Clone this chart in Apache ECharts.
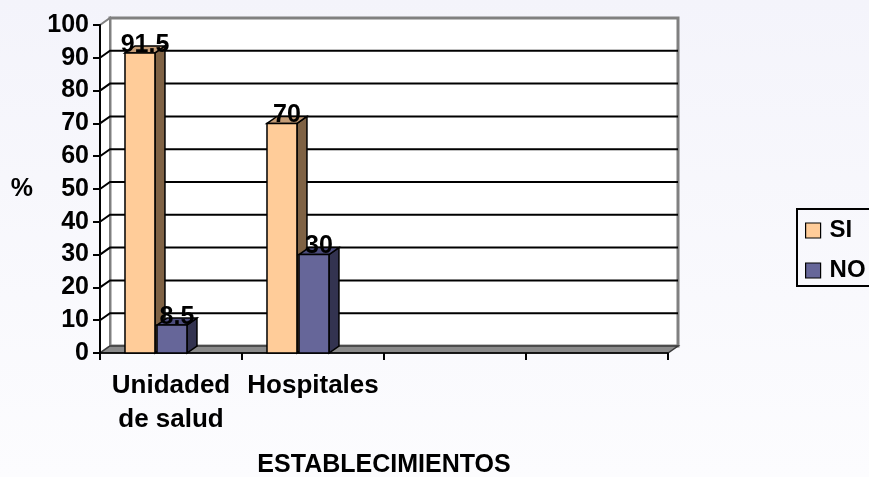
<!DOCTYPE html>
<html>
<head>
<meta charset="utf-8">
<script src="https://cdn.jsdelivr.net/npm/echarts@6/dist/echarts.min.js"></script>
<style>
html,body{margin:0;padding:0;background:#f8f8fc;}
#chart{width:869px;height:477px;}
</style>
</head>
<body>
<div id="chart"></div>
<script>
// ---- data ----
const categories = ['Unidaded\nde salud', 'Hospitales', '', ''];
const seriesNames = ['SI', 'NO'];
const siValues = [91.5, 70];
const noValues = [8.5, 30];
const yTicks = [0, 10, 20, 30, 40, 50, 60, 70, 80, 90, 100];
const xAxisTitle = 'ESTABLECIMIENTOS';
const yAxisTitle = '%';

// ---- styling ----
const FONT = 'Liberation Sans, Arial, sans-serif';
const DEPTH = [10, -7];
const BAR_W = 0.211;
const OFFSETS = [-0.324, -0.0986];
const COLORS = [
  {front: '#FFCC99', side: '#7f6244', top: '#c49c76'},
  {front: '#666699', side: '#333350', top: '#4d4d7d'}
];
const yMin = yTicks[0], yMax = yTicks[yTicks.length - 1];

function wallsRender(params, api) {
  const band = api.size([1, 0])[0];
  const p0 = api.coord([0, yMin]);
  const x0 = p0[0] - band / 2, y0 = p0[1];
  const x1 = x0 + band * categories.length;
  const yTop = api.coord([0, yMax])[1];
  const dx = DEPTH[0], dy = DEPTH[1];
  const children = [];
  children.push({type: 'rect', shape: {x: x0 + dx, y: yTop + dy, width: x1 - x0, height: y0 - yTop},
    style: {fill: '#ffffff', stroke: '#808080', lineWidth: 3}});
  children.push({type: 'polygon', shape: {points: [[x0, yTop], [x0 + dx, yTop + dy], [x0 + dx, y0 + dy], [x0, y0]]},
    style: {fill: '#ffffff', stroke: '#808080', lineWidth: 2}});
  yTicks.forEach(function (v) {
    if (v === yMin || v === yMax) return;
    const y = api.coord([0, v])[1];
    children.push({type: 'polyline', shape: {points: [[x0, y], [x0 + dx, y + dy], [x1 + dx, y + dy]]},
      style: {stroke: '#000000', lineWidth: 2, fill: null}});
  });
  children.push({type: 'polygon', shape: {points: [[x0, y0], [x0 + dx, y0 + dy], [x1 + dx, y0 + dy], [x1, y0]]},
    style: {fill: '#8a8a8a', stroke: '#3a3a3a', lineWidth: 1.5}});
  return {type: 'group', children: children};
}

function makeBarRender(si) {
  return function (params, api) {
    const idx = api.value(0), v = api.value(1);
    const band = api.size([1, 0])[0];
    const c = api.coord([idx, v]);
    const b = api.coord([idx, yMin]);
    const w = band * BAR_W;
    const x = c[0] + band * OFFSETS[si];
    const top = c[1], bot = b[1];
    const dx = DEPTH[0], dy = DEPTH[1];
    const col = COLORS[si];
    return {
      type: 'group',
      children: [
        {type: 'polygon', shape: {points: [[x + w, top], [x + w + dx, top + dy], [x + w + dx, bot + dy], [x + w, bot]]},
          style: {fill: col.side, stroke: '#000', lineWidth: 1.5}},
        {type: 'polygon', shape: {points: [[x, top], [x + dx, top + dy], [x + w + dx, top + dy], [x + w, top]]},
          style: {fill: col.top, stroke: '#000', lineWidth: 1.5}},
        {type: 'rect', shape: {x: x, y: top, width: w, height: bot - top},
          style: {fill: col.front, stroke: '#000', lineWidth: 1.5}},
        {type: 'text', z2: 100, style: {x: x + w / 2 + dx / 2, y: top - 8, text: String(v),
          fill: '#000', font: 'bold 25px ' + FONT, align: 'center', verticalAlign: 'middle'}}
      ]
    };
  };
}

const chart = echarts.init(document.getElementById('chart'), null, {renderer: 'canvas'});
chart.setOption({
  animation: false,
  backgroundColor: {type: 'linear', x: 0, y: 0, x2: 0, y2: 1,
    colorStops: [{offset: 0, color: '#f4f4fb'}, {offset: 1, color: '#fcfcfe'}]},
  textStyle: {fontFamily: FONT},
  grid: {left: 100, right: 201, top: 25, bottom: 124, containLabel: false, outerBoundsMode: 'none'},
  legend: {
    data: seriesNames,
    orient: 'vertical',
    left: 797, top: 209,
    icon: 'rect', itemWidth: 15, itemHeight: 15, itemGap: 15,
    padding: [9, 40, 3, 8],
    borderColor: '#000', borderWidth: 2,
    itemStyle: {borderColor: '#000', borderWidth: 1.2},
    textStyle: {fontFamily: FONT, fontWeight: 'bold', fontSize: 24, color: '#000', lineHeight: 25, padding: [0, 0, 0, 4]}
  },
  xAxis: {
    type: 'category', data: categories,
    name: xAxisTitle, nameLocation: 'middle', nameGap: 100,
    nameTextStyle: {fontFamily: FONT, fontWeight: 'bold', fontSize: 25, color: '#000'},
    axisLine: {lineStyle: {color: '#000', width: 1.5}},
    axisTick: {show: true, length: 7, lineStyle: {color: '#000', width: 2}},
    axisLabel: {fontFamily: FONT, fontWeight: 'bold', fontSize: 26, color: '#000', lineHeight: 34, margin: 16, interval: 0},
    splitLine: {show: false}
  },
  yAxis: {
    type: 'value', min: yMin, max: yMax, interval: 10,
    name: yAxisTitle, nameLocation: 'middle', nameGap: 67, nameRotate: 0,
    nameTextStyle: {fontFamily: FONT, fontWeight: 'bold', fontSize: 25, color: '#000'},
    axisLine: {show: true, lineStyle: {color: '#000', width: 2}},
    axisTick: {show: true, length: 7, lineStyle: {color: '#000', width: 2}},
    axisLabel: {fontFamily: FONT, fontWeight: 'bold', fontSize: 25, color: '#000', margin: 11},
    splitLine: {show: false}
  },
  series: [
    {type: 'custom', name: 'walls', renderItem: wallsRender, data: [[0, 0]], z: 0, silent: true, clip: false,
      legendHoverLink: false},
    {type: 'custom', name: 'SI', renderItem: makeBarRender(0), data: siValues.map(function (v, i) { return [i, v]; }),
      itemStyle: {color: COLORS[0].front}, z: 2, clip: false},
    {type: 'custom', name: 'NO', renderItem: makeBarRender(1), data: noValues.map(function (v, i) { return [i, v]; }),
      itemStyle: {color: COLORS[1].front}, z: 3, clip: false}
  ]
});
</script>
</body>
</html>
